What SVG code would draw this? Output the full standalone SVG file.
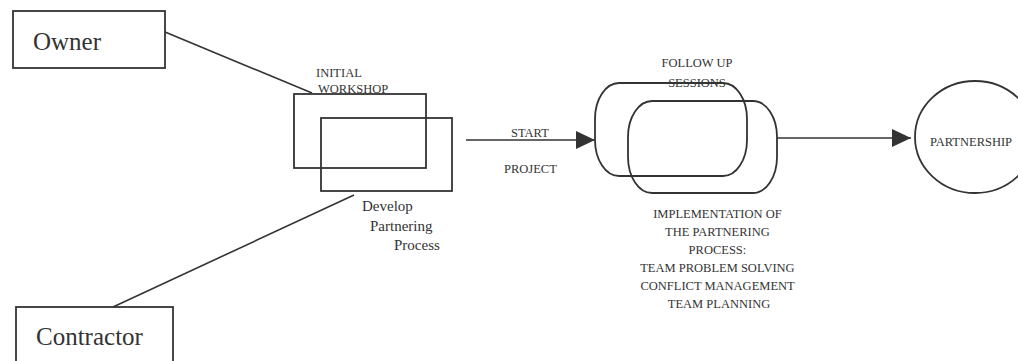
<svg xmlns="http://www.w3.org/2000/svg" width="1018" height="361" viewBox="0 0 1018 361">
<style>
.box{fill:none;stroke:#333;stroke-width:1.8}
.ln{fill:none;stroke:#333;stroke-width:1.6}
.t{font-family:"Liberation Serif","Times New Roman",serif;fill:#333}
.big{font-size:25px}
.sm{font-size:12.5px}
.md{font-size:15px}
</style>
<defs>
<marker id="arr" markerWidth="20" markerHeight="18" refX="19" refY="9" orient="auto" markerUnits="userSpaceOnUse">
<path d="M0,0 L19,9 L0,18 Z" fill="#333"/>
</marker>
</defs>
<rect width="1018" height="361" fill="#fff"/>
<g id="connectors">
<line class="ln" x1="165" y1="32" x2="312" y2="93"/>
<line class="ln" x1="113" y1="307" x2="354" y2="195"/>
<line class="ln" x1="466" y1="140" x2="595" y2="140" marker-end="url(#arr)"/>
<line class="ln" x1="777" y1="138" x2="911" y2="138" marker-end="url(#arr)"/>
</g>
<g id="owner">
<rect class="box" x="13" y="11" width="152" height="57"/>
<text class="t big" x="33" y="50">Owner</text>
</g>
<g id="contractor">
<rect class="box" x="16" y="307" width="157" height="70"/>
<text class="t big" x="36" y="345">Contractor</text>
</g>
<g id="workshop">
<rect class="box" x="294" y="94" width="132" height="74"/>
<rect class="box" x="321" y="118" width="131" height="73"/>
<text class="t sm" x="316" y="77">INITIAL</text>
<text class="t sm" x="318" y="93">WORKSHOP</text>
<text class="t md" x="362" y="211">Develop</text>
<text class="t md" x="370" y="231">Partnering</text>
<text class="t md" x="394" y="250">Process</text>
</g>
<g id="start-label">
<text class="t sm" x="511" y="137">START</text>
<text class="t sm" x="504" y="173">PROJECT</text>
</g>
<g id="followup">
<rect class="box" x="595" y="83" width="152" height="93" rx="24" ry="36"/>
<rect class="box" x="628" y="101" width="149" height="92" rx="24" ry="36"/>
<text class="t sm" x="697" y="67" text-anchor="middle">FOLLOW UP</text>
<text class="t sm" x="697" y="87" text-anchor="middle">SESSIONS</text>
<text class="t sm" text-anchor="middle">
<tspan x="719" y="218">IMPLEMENTATION OF</tspan>
<tspan x="719" y="236">THE PARTNERING</tspan>
<tspan x="719" y="254">PROCESS:</tspan>
<tspan x="719" y="272">TEAM PROBLEM SOLVING</tspan>
<tspan x="719" y="290">CONFLICT MANAGEMENT</tspan>
<tspan x="719" y="308">TEAM PLANNING</tspan>
</text>
</g>
<g id="partnership">
<ellipse class="box" cx="975" cy="137" rx="60" ry="56"/>
<text class="t sm" x="971" y="146" text-anchor="middle">PARTNERSHIP</text>
</g>
</svg>
